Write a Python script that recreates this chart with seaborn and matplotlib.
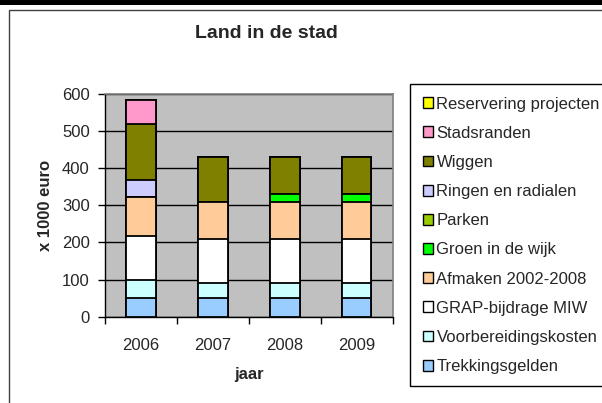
import matplotlib
matplotlib.use("Agg")
import matplotlib.pyplot as plt
from matplotlib.patches import Patch, Rectangle
from matplotlib.ticker import FixedLocator
import numpy as np
import pandas as pd
import seaborn as sns

years = ["2006", "2007", "2008", "2009"]
# bottom -> top stacking order
trekkingsgelden = [50, 50, 50, 50]
voorbereidingskosten = [50, 40, 40, 40]
grap_bijdrage = [118, 120, 120, 120]
afmaken = [104, 100, 100, 100]
groen_in_de_wijk = [0, 0, 20, 20]
parken = [0, 0, 0, 0]
ringen_radialen = [47, 0, 0, 0]
wiggen = [149, 120, 100, 100]
stadsranden = [66, 0, 0, 0]
reservering = [0, 0, 0, 0]

series_names = ["Trekkingsgelden", "Voorbereidingskosten", "GRAP-bijdrage MIW",
                "Afmaken 2002-2008", "Groen in de wijk", "Parken",
                "Ringen en radialen", "Wiggen", "Stadsranden",
                "Reservering projecten"]
series_values = [trekkingsgelden, voorbereidingskosten, grap_bijdrage, afmaken,
                 groen_in_de_wijk, parken, ringen_radialen, wiggen,
                 stadsranden, reservering]
colors = ["#99CCFF", "#CCFFFF", "#FFFFFF", "#FFCC99", "#00FF00", "#99CC00",
          "#CCCCFF", "#808000", "#FF99CC", "#FFFF00"]

sns.set_theme(style="white")
plt.rcParams["font.family"] = ["Liberation Sans", "DejaVu Sans"]

fig = plt.figure(figsize=(6.02, 4.03), dpi=100)
fig.patch.set_facecolor("white")

# outer frame and top band
fig.add_artist(Rectangle((9 / 602, -0.2), 1.2, 1 - 10 / 403 + 0.2,
                         transform=fig.transFigure, fill=False,
                         edgecolor="#404040", linewidth=1.0))
fig.add_artist(Rectangle((0, 1 - 4.5 / 403), 1, 4.5 / 403,
                         transform=fig.transFigure, facecolor="black",
                         edgecolor="none"))

ax = fig.add_axes([105 / 602, 1 - 316.7 / 403, 287.7 / 602, 222.7 / 403])
ax.set_facecolor("#C0C0C0")

cum = np.cumsum(np.array(series_values, dtype=float), axis=0)
# draw from top layer downward so lower layers overlay
for i in range(len(series_names) - 1, -1, -1):
    df = pd.DataFrame({"year": years, "value": cum[i]})
    sns.barplot(data=df, x="year", y="value", color=colors[i],
                saturation=1, width=0.41, edgecolor="black", linewidth=1.3,
                ax=ax, zorder=3)

ax.set_ylim(0, 600)
ax.set_xlim(-0.5, 3.5)
ax.set_yticks(np.arange(0, 601, 100))
ax.yaxis.grid(True, color="black", linewidth=1.0)
ax.set_axisbelow(True)
for b in ax.patches:
    b.set_zorder(3)

for s in ["top", "right"]:
    ax.spines[s].set_color("#808080")
    ax.spines[s].set_linewidth(1.2)
for s in ["left", "bottom"]:
    ax.spines[s].set_color("black")
    ax.spines[s].set_linewidth(1.0)

ax.tick_params(axis="y", which="major", direction="out", length=5, width=1,
               color="black", pad=6, labelsize=12, left=True)
ax.tick_params(axis="x", which="major", length=0, pad=15, labelsize=12)
ax.xaxis.set_minor_locator(FixedLocator([-0.5, 0.5, 1.5, 2.5, 3.5]))
ax.tick_params(axis="x", which="minor", direction="out", length=5, width=1,
               color="black", bottom=True)

ax.set_xlabel("")
ax.set_ylabel("")
fig.text(249 / 602, 1 - 375 / 403, "jaar", ha="center", va="center",
         fontsize=12, fontweight="bold")
fig.text(45 / 602, 1 - 205 / 403, "x 1000 euro", ha="center", va="center",
         rotation=90, fontsize=12, fontweight="bold")
fig.text(266 / 602, 1 - 34 / 403, "Land in de stad", ha="center", va="center",
         fontsize=14, fontweight="bold")

handles = [Patch(facecolor=c, edgecolor="black", linewidth=1.0)
           for c in colors[::-1]]
leg = fig.legend(handles, series_names[::-1], loc="upper left",
                 bbox_to_anchor=(410 / 602, 1 - 84 / 403),
                 bbox_transform=fig.transFigure, fontsize=12,
                 frameon=True, fancybox=False, framealpha=1,
                 edgecolor="black", handlelength=0.62, handleheight=0.62,
                 handletextpad=0.22, labelspacing=0.85, borderpad=0.75,
                 borderaxespad=0)
leg.get_frame().set_linewidth(1.0)

fig.savefig("out.png", dpi=100, facecolor="white")
